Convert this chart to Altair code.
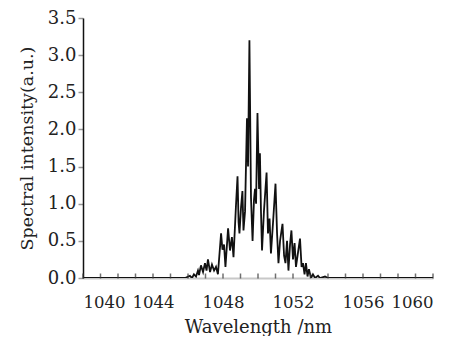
import altair as alt
import pandas as pd

wavelength = [1040.0, 1045.83, 1046.11, 1046.23, 1046.34, 1046.46, 1046.57, 1046.63, 1046.74, 1046.86,
              1046.97, 1047.06, 1047.14, 1047.26, 1047.37, 1047.49, 1047.6, 1047.71, 1047.89, 1047.97,
              1048.06, 1048.14, 1048.29, 1048.4, 1048.51, 1048.6, 1048.74, 1048.83, 1048.89, 1048.94,
              1049.03, 1049.11, 1049.17, 1049.26, 1049.37, 1049.43, 1049.51, 1049.6, 1049.69, 1049.77,
              1049.83, 1049.89, 1049.97, 1050.06, 1050.11, 1050.17, 1050.23, 1050.34, 1050.49, 1050.57,
              1050.66, 1050.74, 1050.86, 1051.0, 1051.09, 1051.17, 1051.26, 1051.4, 1051.49, 1051.57,
              1051.66, 1051.74, 1051.83, 1051.91, 1052.0, 1052.09, 1052.17, 1052.29, 1052.4, 1052.49,
              1052.57, 1052.66, 1052.74, 1052.83, 1052.91, 1053.03, 1053.14, 1053.26, 1053.43, 1053.54,
              1053.83, 1054.0, 1060.0]
intensity = [0.0, 0.0, 0.03, 0.0, 0.05, 0.02, 0.1, 0.04, 0.17, 0.08,
             0.2, 0.1, 0.25, 0.08, 0.18, 0.1, 0.15, 0.05, 0.6, 0.38,
             0.45, 0.15, 0.67, 0.37, 0.55, 0.28, 0.97, 1.37, 0.75, 0.6,
             0.95, 1.17, 0.64, 0.9, 2.15, 1.5, 3.2, 1.08, 0.5, 1.05,
             1.2, 1.0, 2.22, 1.2, 1.68, 0.9, 0.37, 0.9, 1.42, 0.6,
             0.8, 0.33, 0.75, 1.27, 0.6, 0.2, 0.5, 0.73, 0.3, 0.2,
             0.5, 0.1, 0.45, 0.64, 0.25, 0.47, 0.15, 0.35, 0.53, 0.15,
             0.2, 0.05, 0.2, 0.02, 0.12, 0.0, 0.05, 0.0, 0.03, 0.0,
             0.02, 0.0, 0.0]

x_labels = [1040, 1044, 1048, 1052, 1056, 1060]
x_minor = list(range(1040, 1061))
y_labels = [0.0, 0.5, 1.0, 1.5, 2.0, 2.5, 3.0, 3.5]

df = pd.DataFrame({"wl": wavelength, "val": intensity})
minor = pd.DataFrame({"wl": x_minor, "val": [0.0] * len(x_minor)})

FONT = "DejaVu Serif"

xscale = alt.Scale(domain=[1040, 1060], nice=False)
yscale = alt.Scale(domain=[0, 3.5], nice=False)

xaxis = alt.Axis(values=x_labels, format="d", title="Wavelength /nm",
                 tickSize=0, labelPadding=16, titlePadding=8, labelOverlap=False,
                 labelFontSize=16.5, titleFontSize=18,
                 domainColor="#c8c8c8", domainWidth=2, grid=False)
yaxis = alt.Axis(values=y_labels, format=".1f", title="Spectral intensity(a.u.)",
                 tickSize=5, tickColor="#999999", tickWidth=1.5, labelPadding=2,
                 labelFontSize=18, titleFontSize=17.5,
                 labelOverlap=False, titlePadding=11, domainColor="#111111",
                 domainWidth=1.5, grid=False)

line = alt.Chart(df).mark_line(color="#111111", strokeWidth=1.8, clip=True).encode(
    x=alt.X("wl:Q", scale=xscale, axis=xaxis),
    y=alt.Y("val:Q", scale=yscale, axis=yaxis),
)

ticks = alt.Chart(minor).mark_tick(color="#333333", thickness=1.5, size=5, yOffset=-2).encode(
    x=alt.X("wl:Q", scale=xscale, axis=xaxis),
    y=alt.Y("val:Q", scale=yscale, axis=yaxis),
)

chart = alt.layer(line, ticks).properties(
    width=350, height=260,
    autosize=alt.AutoSizeParams(type="none"),
    padding={"left": 75, "top": 10, "right": 29, "bottom": 58},
).configure_view(stroke=None).configure_axis(
    labelFont=FONT, titleFont=FONT,
    labelColor="#222222", titleColor="#222222", titleFontWeight="normal",
)

chart.save("out.html", embed_options={"renderer": "svg", "actions": False})
